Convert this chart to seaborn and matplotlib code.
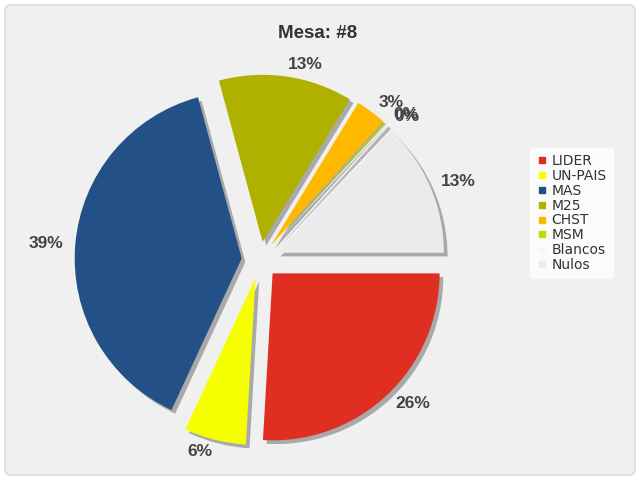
import math
import matplotlib
matplotlib.use("Agg")
import matplotlib.pyplot as plt
from matplotlib.patches import FancyBboxPatch
from matplotlib.lines import Line2D
import seaborn as sns

# data
partidos = ["LIDER", "UN-PAIS", "MAS", "M25", "CHST", "MSM", "Blancos", "Nulos"]
votos = [26, 6, 39, 13, 3, 0.15, 0.15, 13]
colores = ["#e02e22", "#f5ff00", "#235087", "#b0b000", "#ffb800", "#b5e000", "#f7f7f7", "#ebebeb"]
titulo = "Mesa: #8"

sns.set_theme(style="white")
plt.rcParams['font.family'] = ['DejaVu Sans']

fig = plt.figure(figsize=(6.4, 4.8), dpi=100)
fig.patch.set_facecolor("white")
fondo = FancyBboxPatch((0.008, 0.01), 0.984, 0.98, boxstyle="round,pad=0,rounding_size=0.01",
                       transform=fig.transFigure, facecolor="#f0f0f0", edgecolor="#d8d8d8",
                       lw=1, zorder=-10)
fig.patches.append(fondo)

# pie centre at (260, 260) px, radius 167 px
ax = fig.add_axes([60 / 640, 20 / 480, 400 / 640, 400 / 480])
ax.set_zorder(1)
lim = 200 / 167

explode = [0.11] * len(votos)

# shadow
ax.pie(votos, explode=explode, colors=["#a9a9a9"] * len(votos), startangle=0,
       counterclock=False, center=(0.022, -0.022), wedgeprops={"linewidth": 0},
       frame=True)

wedges, texts, autotexts = ax.pie(
    votos, explode=explode, colors=colores, startangle=0, counterclock=False,
    autopct="%.0f%%", pctdistance=1.07, wedgeprops={"linewidth": 0},
    textprops={"fontsize": 12.5, "fontweight": "bold", "color": "#444444",
               "family": "Liberation Sans"}, frame=True)
for w, t in zip(wedges, autotexts):
    t.set_clip_on(False)
    ang = math.radians((w.theta1 + w.theta2) / 2)
    t.set_ha("left" if math.cos(ang) > 0 else "right")
ax.set_xlim(-lim, lim)
ax.set_ylim(-lim, lim)
ax.set_facecolor("none")
ax.axis("off")

fig.text(318 / 640, 1 - 33 / 480, titulo, ha="center", va="center",
         fontsize=13.5, fontweight="bold", color="#333333", family="Liberation Sans")

handles = [Line2D([], [], marker="s", linestyle="", markersize=5, color=c) for c in colores]
leg = fig.legend(handles, partidos, loc="center left", bbox_to_anchor=(523 / 640, 1 - 213 / 480),
                 frameon=True, fontsize=10, handletextpad=0.3, handlelength=0.8,
                 labelspacing=0.06, borderpad=0.45, fancybox=True)
leg.get_frame().set_facecolor("white")
leg.get_frame().set_edgecolor("white")
for t in leg.get_texts():
    t.set_color("#333333")

fig.savefig("out.png", dpi=100, facecolor=fig.get_facecolor())
